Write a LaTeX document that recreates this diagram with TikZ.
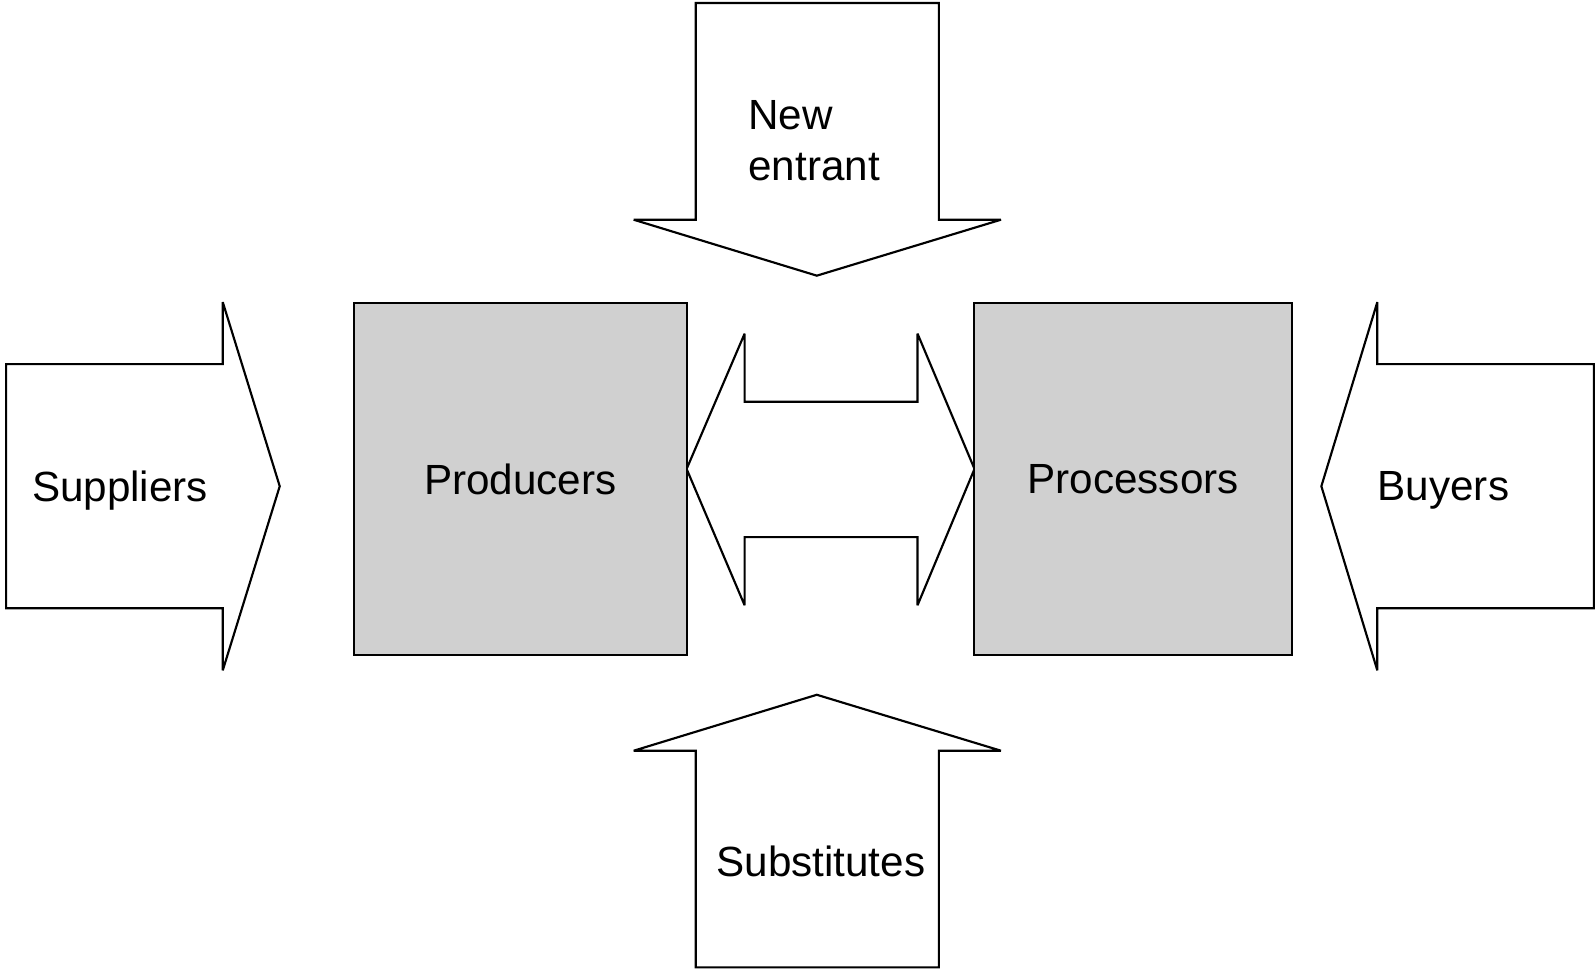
\documentclass[tikz,border=0pt]{standalone}
\usepackage{fontspec}
\setmainfont{Liberation Sans}
\tikzset{
  force/.style={draw, line width=0.6pt, fill=white, line join=miter, miter limit=4},
  player/.style={draw, line width=0.6pt, fill={rgb,255:red,208;green,208;blue,208}, inner sep=0pt},
  label/.style={font=\fontsize{11.8}{14}\selectfont, inner sep=0pt}
}
\begin{document}
\begin{tikzpicture}[x=0.01cm, y=-0.01cm]
	\useasboundingbox (0,0) rectangle (1568,954.6);

	% five forces as block arrows
	\draw[force] (684,3) -- (923,3) -- (923,216) -- (984,216) -- (803,271) -- (623,216) -- (684,216) -- cycle;
	\draw[force] (684,951) -- (923,951) -- (923,738) -- (984,738) -- (803,683) -- (623,738) -- (684,738) -- cycle;
	\draw[force] (6,358) -- (219,358) -- (219,297) -- (275,478) -- (219,659) -- (219,598) -- (6,598) -- cycle;
	\draw[force] (1567,358) -- (1354,358) -- (1354,297) -- (1299,478) -- (1354,659) -- (1354,598) -- (1567,598) -- cycle;

	% rivalry between the two
	\draw[force] (675,461) -- (732,328) -- (732,395) -- (902,395) -- (902,328) -- (958,461)
		-- (902,595) -- (902,528) -- (732,528) -- (732,595) -- cycle;

	\node[player, minimum width=3.27cm, minimum height=3.46cm] (prod) at (511.5,471) {};
	\node[player, minimum width=3.12cm, minimum height=3.46cm] (proc) at (1114,471) {};
	\node[label] (prodtxt) at (prod) {Producers};
	\node[label] (proctxt) at (proc) {Processors};

	\node[label, anchor=base west] (newtxt) at (735,127) {New};
	\node[label, anchor=base west] (enttxt) at (735,177) {entrant};
	\node[label] (subtxt) at (807,847) {Substitutes};
	\node[label] (suptxt) at (118,482) {Suppliers};
	\node[label] (buytxt) at (1419,482) {Buyers};
\end{tikzpicture}
\end{document}
